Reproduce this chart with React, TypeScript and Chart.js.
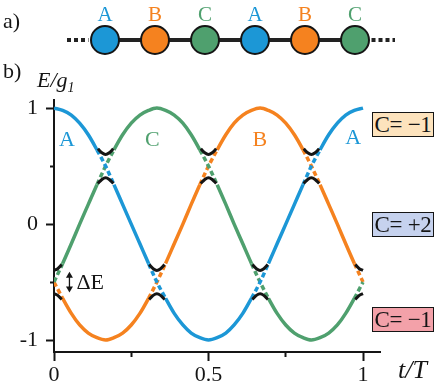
import React, { useEffect, useRef } from "react";
import { Chart, registerables } from "chart.js";
Chart.register(...registerables);

// ---- data: panel b) ----
const tValues = [0, 0.028, 0.056, 0.083, 0.111, 0.139, 0.167, 0.194, 0.222, 0.25, 0.278, 0.306, 0.333, 0.361, 0.389, 0.417, 0.444, 0.472, 0.5, 0.528, 0.556, 0.583, 0.611, 0.639, 0.667, 0.694, 0.722, 0.75, 0.778, 0.806, 0.833, 0.861, 0.889, 0.917, 0.944, 0.972, 1];
const bandA = [1, 0.98, 0.94, 0.87, 0.77, 0.64, 0.5, 0.34, 0.17, 0, -0.17, -0.34, -0.5, -0.64, -0.77, -0.87, -0.94, -0.98, -1, -0.98, -0.94, -0.87, -0.77, -0.64, -0.5, -0.34, -0.17, 0, 0.17, 0.34, 0.5, 0.64, 0.77, 0.87, 0.94, 0.98, 1];
const bandC = [-0.5, -0.34, -0.17, 0, 0.17, 0.34, 0.5, 0.64, 0.77, 0.87, 0.94, 0.98, 1, 0.98, 0.94, 0.87, 0.77, 0.64, 0.5, 0.34, 0.17, 0, -0.17, -0.34, -0.5, -0.64, -0.77, -0.87, -0.94, -0.98, -1, -0.98, -0.94, -0.87, -0.77, -0.64, -0.5];
const bandB = [-0.5, -0.64, -0.77, -0.87, -0.94, -0.98, -1, -0.98, -0.94, -0.87, -0.77, -0.64, -0.5, -0.34, -0.17, 0, 0.17, 0.34, 0.5, 0.64, 0.77, 0.87, 0.94, 0.98, 1, 0.98, 0.94, 0.87, 0.77, 0.64, 0.5, 0.34, 0.17, 0, -0.17, -0.34, -0.5];

// gapped (hybridised) bands near the crossings, null = break
const gapT = [0, 0.012, 0.025, null, 0.142, 0.155, 0.167, 0.179, 0.192, null, 0.308, 0.321, 0.333, 0.345, 0.358, null, 0.475, 0.488, 0.5, 0.512, 0.525, null, 0.642, 0.655, 0.667, 0.679, 0.692, null, 0.808, 0.821, 0.833, 0.845, 0.858, null, 0.975, 0.988, 1];
const gapUpper = [-0.4, -0.385, -0.35, null, 0.65, 0.615, 0.6, 0.615, 0.65, null, -0.35, -0.385, -0.4, -0.385, -0.35, null, 0.65, 0.615, 0.6, 0.615, 0.65, null, -0.35, -0.385, -0.4, -0.385, -0.35, null, 0.65, 0.615, 0.6, 0.615, 0.65, null, -0.35, -0.385, -0.4];
const gapLower = [-0.6, -0.615, -0.65, null, 0.35, 0.385, 0.4, 0.385, 0.35, null, -0.65, -0.615, -0.6, -0.615, -0.65, null, 0.35, 0.385, 0.4, 0.385, 0.35, null, -0.65, -0.615, -0.6, -0.615, -0.65, null, 0.35, 0.385, 0.4, 0.385, 0.35, null, -0.65, -0.615, -0.6];

// energy at which two bare bands cross
const crossingLevels = [0.5, -0.5];

const xTickValues = [0, 0.25, 0.5, 0.75, 1];
const xTickLabels = ["0", "", "0.5", "", "1"];
const yTickValues = [-1, -0.5, 0, 0.5, 1];
const yTickLabels = ["-1", "", "0", "", "1"];

const bandNames = ["A", "C", "B", "A"];
const bandNameT = [0.042, 0.318, 0.666, 0.968];
const bandNameE = [0.72, 0.72, 0.72, 0.74];

const gapArrowT = 0.05;
const gapArrowFrom = -0.59;
const gapArrowTo = -0.41;
const gapArrowLabel = "ΔE";

const chernLabels = ["C= \u22121", "C= +2", "C= \u22121"];

// ---- data: panel a) ----
const chainSites = ["A", "B", "C", "A", "B", "C"];
const chainX = [0, 1, 2, 3, 4, 5];
const chainDotsLeft = [-0.76, -0.33];
const chainDotsRight = [5.33, 5.8];
const chainLabelY = 0.62;

const COLORS: Record<string, string> = { A: "#1c97d6", B: "#f5821f", C: "#4fa06e" };
const INK = "#151515";
const SERIF = '"Liberation Serif", "Times New Roman", serif';
const chernFills = ["#fde3bd", "#c6d2ee", "#f3a1a9"];

function toPoints(xs: (number | null)[], ys: (number | null)[]) {
  let last = 0;
  return xs.map((x, i) => {
    if (x === null || ys[i] === null) return { x: last, y: null };
    last = x;
    return { x, y: ys[i] };
  });
}

const isCrossing = (v: number, k: number) =>
  k % 6 === 0 && crossingLevels.some((c) => Math.abs(v - c) < 0.01);

export default function App() {
  const mainRef = useRef<HTMLCanvasElement>(null);
  const chainRef = useRef<HTMLCanvasElement>(null);

  useEffect(() => {
    document.body.style.margin = "0";

    const bandDataset = (name: string, vals: number[]) => ({
      label: name,
      data: tValues.map((t, i) => ({ x: t, y: vals[i] })),
      borderColor: COLORS[name],
      borderWidth: 3.5,
      pointRadius: 0,
      cubicInterpolationMode: "monotone" as const,
      order: 2,
      segment: {
        borderDash: (ctx: any) =>
          isCrossing(vals[ctx.p0DataIndex], ctx.p0DataIndex) || isCrossing(vals[ctx.p1DataIndex], ctx.p1DataIndex)
            ? [5, 3]
            : undefined,
      },
    });

    const blackDataset = (vals: (number | null)[]) => ({
      data: toPoints(gapT, vals),
      borderColor: INK,
      borderWidth: 3,
      pointRadius: 0,
      spanGaps: false,
      cubicInterpolationMode: "monotone" as const,
      order: 0,
    });

    const labelPlugin = {
      id: "bandLabels",
      afterDatasetsDraw(chart: any) {
        const { ctx, scales } = chart;
        const x = scales.x, y = scales.y;
        ctx.save();
        ctx.font = `22px ${SERIF}`;
        ctx.textAlign = "center";
        ctx.textBaseline = "middle";
        bandNames.forEach((n, i) => {
          ctx.fillStyle = COLORS[n];
          ctx.fillText(n, x.getPixelForValue(bandNameT[i]), y.getPixelForValue(bandNameE[i]));
        });
        // gap arrow
        const ax = x.getPixelForValue(gapArrowT);
        const y1 = y.getPixelForValue(gapArrowFrom);
        const y2 = y.getPixelForValue(gapArrowTo);
        ctx.strokeStyle = INK;
        ctx.fillStyle = INK;
        ctx.lineWidth = 1.3;
        ctx.beginPath();
        ctx.moveTo(ax, y1 - 3);
        ctx.lineTo(ax, y2 + 3);
        ctx.stroke();
        ctx.beginPath();
        ctx.moveTo(ax, y2); ctx.lineTo(ax - 3.5, y2 + 6); ctx.lineTo(ax + 3.5, y2 + 6); ctx.closePath();
        ctx.fill();
        ctx.beginPath();
        ctx.moveTo(ax, y1); ctx.lineTo(ax - 3.5, y1 - 6); ctx.lineTo(ax + 3.5, y1 - 6); ctx.closePath();
        ctx.fill();
        ctx.font = `22px ${SERIF}`;
        ctx.textAlign = "left";
        ctx.fillText(gapArrowLabel, ax + 7, (y1 + y2) / 2 + 1);
        ctx.restore();
      },
    };

    const tickFont = { family: SERIF, size: 22 };

    const main = new Chart(mainRef.current!, {
      type: "line",
      data: {
        datasets: [
          blackDataset(gapUpper),
          blackDataset(gapLower),
          bandDataset("A", bandA),
          bandDataset("C", bandC),
          bandDataset("B", bandB),
        ] as any,
      },
      options: {
        animation: false,
        responsive: false,
        events: [],
        layout: { autoPadding: false, padding: { top: 100, right: 62, left: 0, bottom: 0 } },
        plugins: { legend: { display: false }, tooltip: { enabled: false } },
        scales: {
          x: {
            type: "linear",
            min: 0,
            max: 1.055,
            afterBuildTicks: (s: any) => { s.ticks = xTickValues.map((v) => ({ value: v })); },
            afterFit: (s: any) => { s.height = 39; },
            ticks: {
              callback: (_v: any, i: number) => xTickLabels[i],
              font: tickFont,
              color: INK,
              padding: 1,
              maxRotation: 0,
              autoSkip: false,
            },
            grid: {
              drawOnChartArea: false,
              drawTicks: true,
              tickLength: 9,
              tickColor: INK,
              tickWidth: 2,
              tickBorderDash: (c: any) => (c.tick && c.tick.value % 0.5 !== 0 ? [4, 100] : []),
            },
            border: { display: true, color: INK, width: 2 },
          },
          y: {
            type: "linear",
            min: -1.103,
            max: 1.07,
            afterBuildTicks: (s: any) => { s.ticks = yTickValues.map((v) => ({ value: v })); },
            afterFit: (s: any) => { s.width = 54; },
            ticks: {
              callback: (_v: any, i: number) => yTickLabels[i],
              font: tickFont,
              color: INK,
              padding: 8,
              autoSkip: false,
            },
            grid: {
              drawOnChartArea: false,
              drawTicks: true,
              tickLength: 8,
              tickColor: INK,
              tickWidth: 2,
              tickBorderDash: (c: any) => (c.tick && c.tick.value % 1 !== 0 ? [0, 4, 4, 100] : []),
            },
            border: { display: true, color: INK, width: 2 },
          },
        },
      } as any,
      plugins: [labelPlugin],
    });

    const chainLabelPlugin = {
      id: "chainLabels",
      afterDatasetsDraw(chart: any) {
        const { ctx, scales } = chart;
        ctx.save();
        ctx.font = `21px ${SERIF}`;
        ctx.textAlign = "center";
        ctx.textBaseline = "middle";
        chainSites.forEach((s, i) => {
          ctx.fillStyle = COLORS[s];
          ctx.fillText(s, scales.x.getPixelForValue(chainX[i]), scales.y.getPixelForValue(chainLabelY));
        });
        ctx.restore();
      },
    };

    const chain = new Chart(chainRef.current!, {
      type: "scatter",
      data: {
        datasets: [
          {
            data: chainX.map((x) => ({ x, y: 0 })),
            pointRadius: 14,
            pointBorderWidth: 2,
            pointBorderColor: INK,
            pointBackgroundColor: chainSites.map((s) => COLORS[s]),
            showLine: false,
            order: 0,
          },
          {
            data: [{ x: chainX[0], y: 0 }, { x: chainX[chainX.length - 1], y: 0 }],
            showLine: true,
            borderColor: "#222",
            borderWidth: 4,
            pointRadius: 0,
            order: 1,
          },
          {
            data: chainDotsLeft.map((x) => ({ x, y: 0 })),
            showLine: true,
            borderColor: "#222",
            borderWidth: 4,
            borderDash: [4, 3],
            pointRadius: 0,
            order: 1,
          },
          {
            data: chainDotsRight.map((x) => ({ x, y: 0 })),
            showLine: true,
            borderColor: "#222",
            borderWidth: 4,
            borderDash: [4, 3],
            pointRadius: 0,
            order: 1,
          },
        ] as any,
      },
      options: {
        animation: false,
        responsive: false,
        events: [],
        layout: { autoPadding: false, padding: 0 },
        plugins: { legend: { display: false }, tooltip: { enabled: false } },
        scales: {
          x: { type: "linear", min: -2.1, max: 6.74, display: false },
          y: { type: "linear", min: -1, max: 1, display: false },
        },
      } as any,
      plugins: [chainLabelPlugin],
    });

    return () => {
      main.destroy();
      chain.destroy();
    };
  }, []);

  const text = (left: number, top: number, size: number, italic = false): React.CSSProperties => ({
    position: "absolute",
    left,
    top,
    fontSize: size,
    lineHeight: `${size}px`,
    fontStyle: italic ? "italic" : "normal",
    whiteSpace: "nowrap",
  });

  const boxTops = [112, 212, 307];

  return (
    <div
      style={{
        position: "absolute",
        left: 0,
        top: 0,
        width: 442,
        height: 391,
        background: "#fff",
        fontFamily: SERIF,
        color: INK,
        overflow: "hidden",
      }}
    >
      <canvas ref={mainRef} width={442} height={391} style={{ position: "absolute", left: 0, top: 0 }} />
      <canvas ref={chainRef} width={442} height={80} style={{ position: "absolute", left: 0, top: 0 }} />
      <div style={text(3, 10, 22)}>a)</div>
      <div style={text(3, 60, 22)}>b)</div>
      <div style={text(37, 69, 22, true)}>
        E/g<span style={{ fontSize: 14, position: "relative", top: 5 }}>1</span>
      </div>
      <div style={text(398, 357, 26, true)}>t/T</div>
      {chernLabels.map((lab, i) => (
        <div
          key={i}
          style={{
            position: "absolute",
            left: 372,
            top: boxTops[i],
            width: 62,
            height: 25,
            boxSizing: "border-box",
            border: `1.5px solid ${INK}`,
            background: chernFills[i],
            fontSize: 23,
            lineHeight: "23px",
            textAlign: "center",
            whiteSpace: "nowrap",
            overflow: "visible",
            letterSpacing: -0.3,
          }}
        >
          {lab}
        </div>
      ))}
    </div>
  );
}
